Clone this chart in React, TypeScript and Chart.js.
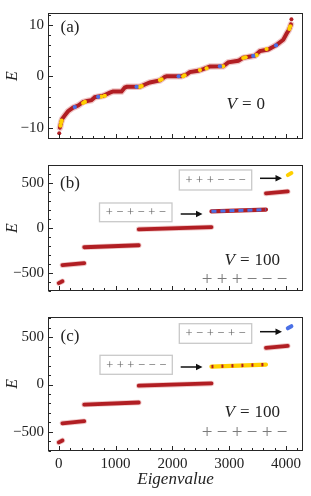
import React, { useEffect, useRef } from "react";
import { Chart, registerables } from "chart.js";
Chart.register(...registerables);

const SERIF = "'Liberation Serif', 'DejaVu Serif', serif";

// ---------- tick labels ----------
const xTickValues = [0, 1000, 2000, 3000, 4000];
const aTickValues = [-10, 0, 10];
const bcTickValues = [-500, 0, 500];

// ---------- panel (a): V = 0 ----------
const aIndex = [20, 40, 60, 106, 164, 252, 340, 429, 500, 575, 634, 781, 899, 957, 1105, 1163, 1200, 1427, 1515, 1603, 1780, 1868, 1900, 2160, 2250, 2308, 2455, 2543, 2661, 2895, 2983, 3160, 3248, 3454, 3542, 3688, 3836, 3953, 4012, 4050, 4070, 4088];
const aEnergy = [-10.0, -9.0, -8.3, -7.6, -6.8, -6.1, -5.7, -5.0, -4.8, -4.65, -4.07, -3.8, -3.2, -2.95, -2.95, -2.2, -2.05, -2.05, -1.6, -1.2, -0.8, -0.1, 0, 0, 0.35, 0.8, 1.06, 1.4, 1.9, 1.95, 2.7, 3.0, 3.6, 4.0, 4.9, 5.2, 6.1, 7.1, 8.3, 9.0, 9.5, 10.1];
const aEndIndex = [8, 4096];
const aEndEnergy = [-11.1, 11.1];
const aYellowIndex = [30, 40, 50, 429, 460, 752, 810, 1427, 1460, 1780, 1810, 2191, 2215, 2485, 2603, 2895, 3248, 3290, 3483, 3659, 4060, 4075];
const aYellowEnergy = [-9.6, -9.0, -8.6, -5.2, -5.0, -3.95, -3.8, -2.05, -1.9, -0.75, -0.6, 0.0, 0.2, 1.2, 1.55, 1.95, 3.55, 3.7, 4.1, 5.3, 9.2, 9.7];
const aBlueIndex = [282, 693, 1369, 2110, 2837, 3424, 3826];
const aBlueEnergy = [-6.0, -4.0, -2.05, 0, 1.95, 3.95, 6.0];

// ---------- panels (b), (c): V = 100 sectors ----------
const sectorStart = [0, 64, 448, 1408, 2688, 3648, 4032];
const sectorEnd = [64, 448, 1408, 2688, 3648, 4032, 4096];
const bStartEnergy = [-612, -412, -212, -12, 188, 388, 592];
const bEndEnergy = [-592, -390, -190, 12, 208, 410, 615];
const cStartEnergy = [-612, -410, -212, -12, 190, 388, 595];
const cEndEnergy = [-592, -388, -190, 12, 212, 410, 618];

const RED = "#b11e23";
const HALO = "rgba(205,70,70,0.3)";
const YELLOW = "#ffd000";
const BLUE = "#4a70e6";

const pts = (xs: number[], ys: number[]) => xs.map((x, i) => ({ x, y: ys[i] }));

function lineDs(data: any[], color: string, width: number, order: number, dash: number[] = []) {
  return {
    data,
    showLine: true,
    borderColor: color,
    borderWidth: width,
    borderDash: dash,
    borderCapStyle: dash.length ? "butt" : "round",
    pointRadius: 0,
    pointHoverRadius: 0,
    order,
  };
}
function dotDs(data: any[], color: string, r: number, order: number) {
  return {
    data,
    showLine: false,
    backgroundColor: color,
    borderWidth: 0,
    pointRadius: r,
    pointHoverRadius: r,
    order,
  };
}

function sectorDatasets(startE: number[], endE: number[], panel: "b" | "c") {
  const out: any[] = [];
  for (let i = 0; i < sectorStart.length; i++) {
    const d = [
      { x: sectorStart[i], y: startE[i] },
      { x: sectorEnd[i], y: endE[i] },
    ];
    if (i === 6) {
      out.push(lineDs(d, panel === "b" ? YELLOW : BLUE, 4, 2));
    } else if (i === 4) {
      if (panel === "b") {
        out.push(lineDs(d, RED, 4.2, 3));
        out.push(lineDs(d, BLUE, 3, 1, [5, 4]));
      } else {
        out.push(lineDs(d, YELLOW, 4.2, 3));
        out.push(lineDs(d, RED, 3.4, 1, [2, 8]));
      }
    } else {
      out.push(lineDs(d, HALO, 5.5, 4));
      out.push(lineDs(d, RED, 3.8, 3));
    }
  }
  return out;
}

type Box = { text: string[]; x: number; y: number; w: number; h: number; ax0: number; ax1: number; ay: number };
type Ann = {
  label: string;
  labelY: number;
  vName: string;
  vValue: string;
  vY: number;
  vRight: number;
  big?: string[];
  bigY?: number;
  boxes?: Box[];
  yMinor: number;
  yMajor: number[];
};

function decorPlugin(ann: Ann) {
  return {
    id: "decor",
    afterDraw(chart: any) {
      const { ctx, chartArea: ca } = chart;
      const xs = chart.scales.x;
      const ys = chart.scales.y;
      ctx.save();
      const L = Math.round(ca.left) + 0.5;
      const T = Math.round(ca.top) + 0.5;
      const R = Math.round(ca.right) - 0.5;
      const B = Math.round(ca.bottom) - 0.5;
      ctx.strokeStyle = "#262626";
      ctx.lineWidth = 1;
      ctx.strokeRect(L, T, R - L, B - T);
      ctx.beginPath();
      for (let v = Math.ceil(xs.min / 200) * 200; v <= xs.max; v += 200) {
        const p = Math.round(xs.getPixelForValue(v)) + 0.5;
        const len = xTickValues.includes(v) ? 4.5 : 2.5;
        ctx.moveTo(p, B);
        ctx.lineTo(p, B - len);
      }
      for (let v = Math.ceil(ys.min / ann.yMinor) * ann.yMinor; v <= ys.max; v += ann.yMinor) {
        const p = Math.round(ys.getPixelForValue(v)) + 0.5;
        const len = ann.yMajor.includes(v) ? 4.5 : 2.5;
        ctx.moveTo(L, p);
        ctx.lineTo(L + len, p);
      }
      ctx.stroke();

      // panel label
      ctx.fillStyle = "#222";
      ctx.textBaseline = "middle";
      ctx.textAlign = "center";
      ctx.font = `17px ${SERIF}`;
      ctx.fillText(ann.label, ca.left + 22, ca.top + ann.labelY);

      // V = ...
      ctx.textAlign = "left";
      ctx.font = `italic 17px ${SERIF}`;
      const wV = ctx.measureText(ann.vName).width;
      ctx.font = `17px ${SERIF}`;
      const wEq = ctx.measureText("=").width;
      const wN = ctx.measureText(ann.vValue).width;
      const gap = 5;
      let x0 = ca.right - ann.vRight - (wV + gap + wEq + gap + wN);
      const vy = ca.top + ann.vY;
      ctx.font = `italic 17px ${SERIF}`;
      ctx.fillText(ann.vName, x0, vy);
      x0 += wV + gap;
      ctx.font = `17px ${SERIF}`;
      ctx.fillText("=", x0, vy);
      x0 += wEq + gap;
      ctx.fillText(ann.vValue, x0, vy);

      // big sign pattern
      if (ann.big) {
        ctx.fillStyle = "#7a7a7a";
        ctx.textAlign = "center";
        ctx.font = `19px ${SERIF}`;
        const n = ann.big.length;
        ann.big.forEach((ch, i) => {
          ctx.fillText(ch, ca.right - 21 - (n - 1 - i) * 15, ca.top + (ann.bigY || 0));
        });
      }

      // boxes + arrows
      (ann.boxes || []).forEach((b) => {
        const bx = ca.left + b.x;
        const by = ca.top + b.y;
        ctx.fillStyle = "#ffffff";
        ctx.fillRect(bx, by, b.w, b.h);
        ctx.strokeStyle = "#c9c9c9";
        ctx.lineWidth = 1.3;
        ctx.strokeRect(bx, by, b.w, b.h);
        ctx.fillStyle = "#5e5e5e";
        ctx.font = `12.5px ${SERIF}`;
        ctx.textAlign = "center";
        const n = b.text.length;
        const step = 10.6;
        const cx = bx + b.w / 2;
        b.text.forEach((ch, i) => {
          ctx.fillText(ch, cx + (i - (n - 1) / 2) * step, by + b.h / 2 + 0.5);
        });
        // arrow
        const ax0 = ca.left + b.ax0;
        const ax1 = ca.left + b.ax1;
        const ay = ca.top + b.ay;
        ctx.strokeStyle = "#111";
        ctx.lineWidth = 1.5;
        ctx.beginPath();
        ctx.moveTo(ax0, ay);
        ctx.lineTo(ax1 - 5, ay);
        ctx.stroke();
        ctx.fillStyle = "#111";
        ctx.beginPath();
        ctx.moveTo(ax1, ay);
        ctx.lineTo(ax1 - 6.5, ay - 3.2);
        ctx.lineTo(ax1 - 6.5, ay + 3.2);
        ctx.closePath();
        ctx.fill();
      });
      ctx.restore();
    },
  };
}

const fmt = (v: number) => (v < 0 ? "\u2212" + Math.abs(v) : String(v));

function buildConfig(
  datasets: any[],
  yMin: number,
  yMax: number,
  yTicks: number[],
  showX: boolean,
  padding: { top: number; bottom: number },
  ann: Ann
) {
  return {
    type: "scatter",
    data: { datasets },
    options: {
      responsive: false,
      animation: false,
      devicePixelRatio: 1,
      events: [],
      layout: { padding: { left: 0, right: 8, top: padding.top, bottom: padding.bottom } },
      plugins: { legend: { display: false }, tooltip: { enabled: false } },
      scales: {
        x: {
          type: "linear",
          min: -190,
          max: 4300,
          display: showX,
          grid: { display: false, drawTicks: false, tickLength: 0 },
          border: { display: false },
          afterBuildTicks: (s: any) => {
            s.ticks = xTickValues.map((v) => ({ value: v }));
          },
          afterFit: (s: any) => {
            if (showX) s.height = 45.3;
          },
          ticks: {
            autoSkip: false,
            maxRotation: 0,
            padding: 4,
            color: "#222",
            font: { family: SERIF, size: 15 },
            callback: (v: any) => fmt(Number(v)),
          },
          title: {
            display: showX,
            text: "Eigenvalue",
            color: "#222",
            font: { family: SERIF, size: 17, style: "italic" },
            padding: { top: 0, bottom: 6 },
          },
        },
        y: {
          type: "linear",
          min: yMin,
          max: yMax,
          grid: { display: false, drawTicks: false, tickLength: 0 },
          border: { display: false },
          afterBuildTicks: (s: any) => {
            s.ticks = yTicks.map((v) => ({ value: v }));
          },
          afterFit: (s: any) => {
            s.width = 48;
          },
          ticks: {
            autoSkip: false,
            padding: 4,
            color: "#222",
            font: { family: SERIF, size: 15 },
            callback: (v: any) => fmt(Number(v)),
          },
          title: {
            display: true,
            text: "E",
            color: "#222",
            font: { family: SERIF, size: 16, style: "italic" },
            padding: { top: 3, bottom: 0 },
          },
        },
      },
    },
    plugins: [decorPlugin(ann)],
  };
}

export default function App() {
  const refA = useRef<HTMLCanvasElement>(null);
  const refB = useRef<HTMLCanvasElement>(null);
  const refC = useRef<HTMLCanvasElement>(null);

  useEffect(() => {
    const aDatasets = [
      lineDs(pts(aIndex, aEnergy), HALO, 6.5, 5),
      lineDs(pts(aIndex, aEnergy), RED, 4, 4),
      dotDs(pts(aEndIndex, aEndEnergy), RED, 2, 3),
      dotDs(pts(aYellowIndex, aYellowEnergy), YELLOW, 2.1, 2),
      dotDs(pts(aBlueIndex, aBlueEnergy), BLUE, 2.1, 1),
    ];
    const charts: Chart[] = [];
    charts.push(
      new Chart(
        refA.current as HTMLCanvasElement,
        buildConfig(aDatasets, -12.2, 12.3, aTickValues, false, { top: 8, bottom: 6 }, {
          label: "(a)",
          labelY: 15,
          vName: "V",
          vValue: "0",
          vY: 92,
          vRight: 38,
          yMinor: 2,
          yMajor: aTickValues,
        }) as any
      )
    );
    charts.push(
      new Chart(
        refB.current as HTMLCanvasElement,
        buildConfig(sectorDatasets(bStartEnergy, bEndEnergy, "b"), -700, 705, bcTickValues, false, { top: 8, bottom: 5.7 }, {
          label: "(b)",
          labelY: 19,
          vName: "V",
          vValue: "100",
          vY: 95.5,
          vRight: 23,
          big: ["+", "+", "+", "\u2212", "\u2212", "\u2212"],
          bigY: 115.5,
          boxes: [
            { text: ["+", "+", "+", "\u2212", "\u2212", "\u2212"], x: 131.3, y: 5, w: 72.4, h: 20, ax0: 212, ax1: 234, ay: 13.3 },
            { text: ["+", "\u2212", "+", "\u2212", "+", "\u2212"], x: 51.5, y: 38, w: 72.5, h: 18.7, ax0: 132.7, ax1: 154.5, ay: 49 },
          ],
          yMinor: 100,
          yMajor: bcTickValues,
        }) as any
      )
    );
    charts.push(
      new Chart(
        refC.current as HTMLCanvasElement,
        buildConfig(sectorDatasets(cStartEnergy, cEndEnergy, "c"), -700, 715, bcTickValues, true, { top: 7, bottom: 0 }, {
          label: "(c)",
          labelY: 19.5,
          vName: "V",
          vValue: "100",
          vY: 95.7,
          vRight: 23,
          big: ["+", "\u2212", "+", "\u2212", "+", "\u2212"],
          bigY: 116.3,
          boxes: [
            { text: ["+", "\u2212", "+", "\u2212", "+", "\u2212"], x: 131.3, y: 6.7, w: 72.4, h: 19.6, ax0: 212, ax1: 234, ay: 14.7 },
            { text: ["+", "+", "+", "\u2212", "\u2212", "\u2212"], x: 52, y: 38.3, w: 72.3, h: 19, ax0: 132.7, ax1: 154.5, ay: 50 },
          ],
          yMinor: 100,
          yMajor: bcTickValues,
        }) as any
      )
    );
    return () => charts.forEach((c) => c.destroy());
  }, []);

  const cs = (top: number): React.CSSProperties => ({ position: "absolute", left: 0, top, display: "block" });
  return (
    <div style={{ position: "fixed", left: 0, top: 0, width: 311, height: 496, background: "#fff", overflow: "hidden" }}>
      <canvas ref={refA} width={311} height={152} style={cs(0)} />
      <canvas ref={refB} width={311} height={152} style={cs(152)} />
      <canvas ref={refC} width={311} height={192} style={cs(304)} />
    </div>
  );
}
